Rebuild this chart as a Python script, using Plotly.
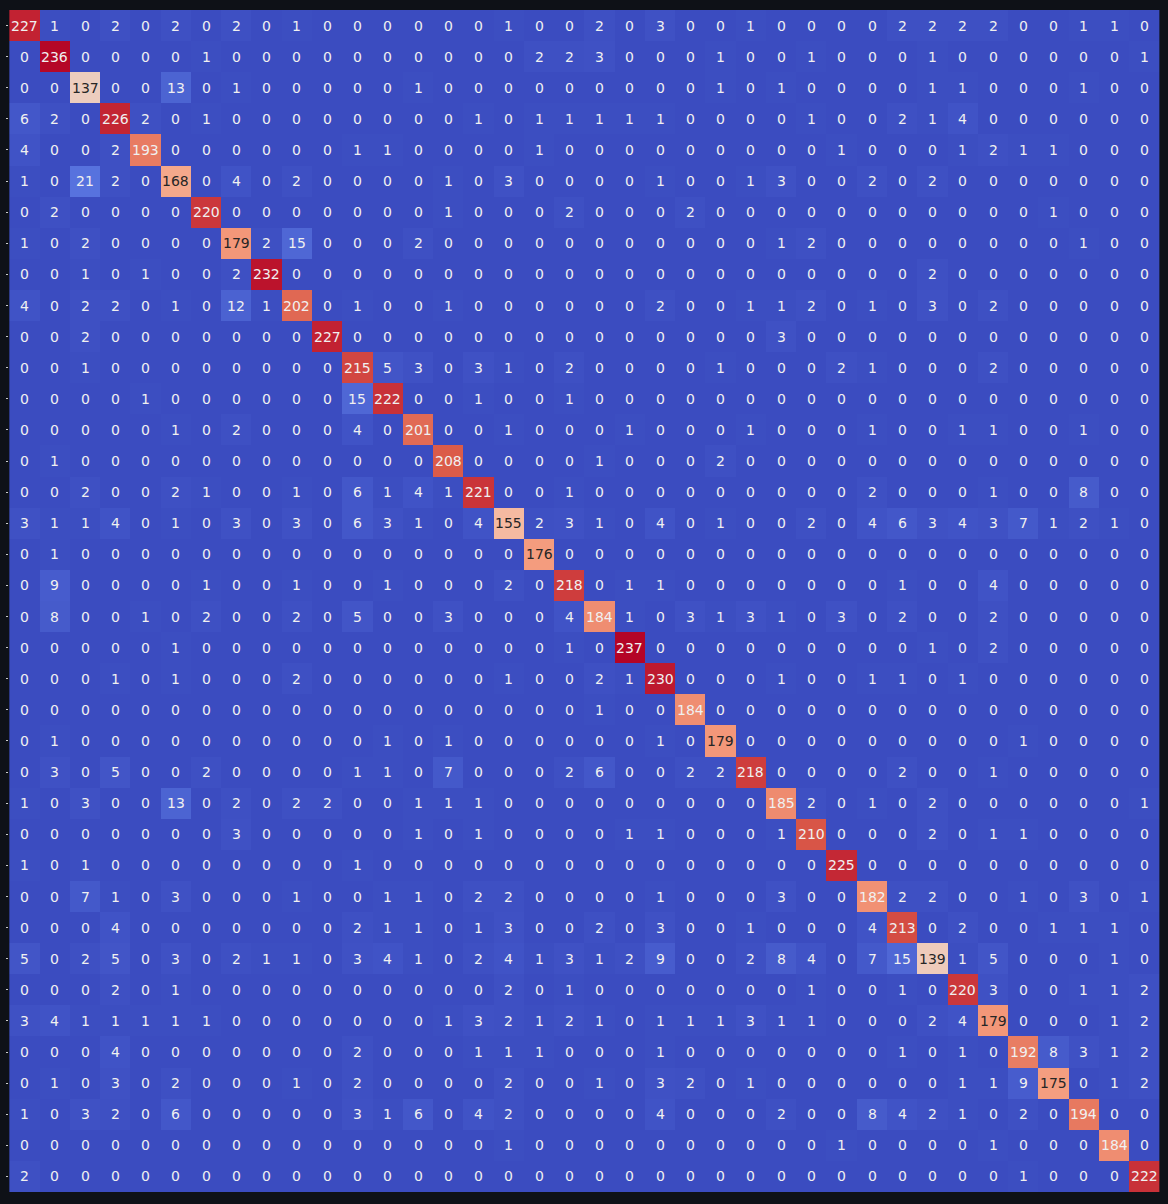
import plotly.graph_objects as go

labels = [str(i) for i in range(38)]

row_00 = [227,1,0,2,0,2,0,2,0,1,0,0,0,0,0,0,1,0,0, 2,0,3,0,0,1,0,0,0,0,2,2,2,2,0,0,1,1,0]
row_01 = [0,236,0,0,0,0,1,0,0,0,0,0,0,0,0,0,0,2,2, 3,0,0,0,1,0,0,1,0,0,0,1,0,0,0,0,0,0,1]
row_02 = [0,0,137,0,0,13,0,1,0,0,0,0,0,1,0,0,0,0,0, 0,0,0,0,1,0,1,0,0,0,0,1,1,0,0,0,1,0,0]
row_03 = [6,2,0,226,2,0,1,0,0,0,0,0,0,0,0,1,0,1,1, 1,1,1,0,0,0,0,1,0,0,2,1,4,0,0,0,0,0,0]
row_04 = [4,0,0,2,193,0,0,0,0,0,0,1,1,0,0,0,0,1,0, 0,0,0,0,0,0,0,0,1,0,0,0,1,2,1,1,0,0,0]
row_05 = [1,0,21,2,0,168,0,4,0,2,0,0,0,0,1,0,3,0,0, 0,0,1,0,0,1,3,0,0,2,0,2,0,0,0,0,0,0,0]
row_06 = [0,2,0,0,0,0,220,0,0,0,0,0,0,0,1,0,0,0,2, 0,0,0,2,0,0,0,0,0,0,0,0,0,0,0,1,0,0,0]
row_07 = [1,0,2,0,0,0,0,179,2,15,0,0,0,2,0,0,0,0,0, 0,0,0,0,0,0,1,2,0,0,0,0,0,0,0,0,1,0,0]
row_08 = [0,0,1,0,1,0,0,2,232,0,0,0,0,0,0,0,0,0,0, 0,0,0,0,0,0,0,0,0,0,0,2,0,0,0,0,0,0,0]
row_09 = [4,0,2,2,0,1,0,12,1,202,0,1,0,0,1,0,0,0,0, 0,0,2,0,0,1,1,2,0,1,0,3,0,2,0,0,0,0,0]
row_10 = [0,0,2,0,0,0,0,0,0,0,227,0,0,0,0,0,0,0,0, 0,0,0,0,0,0,3,0,0,0,0,0,0,0,0,0,0,0,0]
row_11 = [0,0,1,0,0,0,0,0,0,0,0,215,5,3,0,3,1,0,2, 0,0,0,0,1,0,0,0,2,1,0,0,0,2,0,0,0,0,0]
row_12 = [0,0,0,0,1,0,0,0,0,0,0,15,222,0,0,1,0,0,1, 0,0,0,0,0,0,0,0,0,0,0,0,0,0,0,0,0,0,0]
row_13 = [0,0,0,0,0,1,0,2,0,0,0,4,0,201,0,0,1,0,0, 0,1,0,0,0,1,0,0,0,1,0,0,1,1,0,0,1,0,0]
row_14 = [0,1,0,0,0,0,0,0,0,0,0,0,0,0,208,0,0,0,0, 1,0,0,0,2,0,0,0,0,0,0,0,0,0,0,0,0,0,0]
row_15 = [0,0,2,0,0,2,1,0,0,1,0,6,1,4,1,221,0,0,1, 0,0,0,0,0,0,0,0,0,2,0,0,0,1,0,0,8,0,0]
row_16 = [3,1,1,4,0,1,0,3,0,3,0,6,3,1,0,4,155,2,3, 1,0,4,0,1,0,0,2,0,4,6,3,4,3,7,1,2,1,0]
row_17 = [0,1,0,0,0,0,0,0,0,0,0,0,0,0,0,0,0,176,0, 0,0,0,0,0,0,0,0,0,0,0,0,0,0,0,0,0,0,0]
row_18 = [0,9,0,0,0,0,1,0,0,1,0,0,1,0,0,0,2,0,218, 0,1,1,0,0,0,0,0,0,0,1,0,0,4,0,0,0,0,0]
row_19 = [0,8,0,0,1,0,2,0,0,2,0,5,0,0,3,0,0,0,4, 184,1,0,3,1,3,1,0,3,0,2,0,0,2,0,0,0,0,0]
row_20 = [0,0,0,0,0,1,0,0,0,0,0,0,0,0,0,0,0,0,1, 0,237,0,0,0,0,0,0,0,0,0,1,0,2,0,0,0,0,0]
row_21 = [0,0,0,1,0,1,0,0,0,2,0,0,0,0,0,0,1,0,0, 2,1,230,0,0,0,1,0,0,1,1,0,1,0,0,0,0,0,0]
row_22 = [0,0,0,0,0,0,0,0,0,0,0,0,0,0,0,0,0,0,0, 1,0,0,184,0,0,0,0,0,0,0,0,0,0,0,0,0,0,0]
row_23 = [0,1,0,0,0,0,0,0,0,0,0,0,1,0,1,0,0,0,0, 0,0,1,0,179,0,0,0,0,0,0,0,0,0,1,0,0,0,0]
row_24 = [0,3,0,5,0,0,2,0,0,0,0,1,1,0,7,0,0,0,2, 6,0,0,2,2,218,0,0,0,0,2,0,0,1,0,0,0,0,0]
row_25 = [1,0,3,0,0,13,0,2,0,2,2,0,0,1,1,1,0,0,0, 0,0,0,0,0,0,185,2,0,1,0,2,0,0,0,0,0,0,1]
row_26 = [0,0,0,0,0,0,0,3,0,0,0,0,0,1,0,1,0,0,0, 0,1,1,0,0,0,1,210,0,0,0,2,0,1,1,0,0,0,0]
row_27 = [1,0,1,0,0,0,0,0,0,0,0,1,0,0,0,0,0,0,0, 0,0,0,0,0,0,0,0,225,0,0,0,0,0,0,0,0,0,0]
row_28 = [0,0,7,1,0,3,0,0,0,1,0,0,1,1,0,2,2,0,0, 0,0,1,0,0,0,3,0,0,182,2,2,0,0,1,0,3,0,1]
row_29 = [0,0,0,4,0,0,0,0,0,0,0,2,1,1,0,1,3,0,0, 2,0,3,0,0,1,0,0,0,4,213,0,2,0,0,1,1,1,0]
row_30 = [5,0,2,5,0,3,0,2,1,1,0,3,4,1,0,2,4,1,3, 1,2,9,0,0,2,8,4,0,7,15,139,1,5,0,0,0,1,0]
row_31 = [0,0,0,2,0,1,0,0,0,0,0,0,0,0,0,0,2,0,1, 0,0,0,0,0,0,0,1,0,0,1,0,220,3,0,0,1,1,2]
row_32 = [3,4,1,1,1,1,1,0,0,0,0,0,0,0,1,3,2,1,2, 1,0,1,1,1,3,1,1,0,0,0,2,4,179,0,0,0,1,2]
row_33 = [0,0,0,4,0,0,0,0,0,0,0,2,0,0,0,1,1,1,0, 0,0,1,0,0,0,0,0,0,0,1,0,1,0,192,8,3,1,2]
row_34 = [0,1,0,3,0,2,0,0,0,1,0,2,0,0,0,0,2,0,0, 1,0,3,2,0,1,0,0,0,0,0,0,1,1,9,175,0,1,2]
row_35 = [1,0,3,2,0,6,0,0,0,0,0,3,1,6,0,4,2,0,0, 0,0,4,0,0,0,2,0,0,8,4,2,1,0,2,0,194,0,0]
row_36 = [0,0,0,0,0,0,0,0,0,0,0,0,0,0,0,0,1,0,0, 0,0,0,0,0,0,0,0,1,0,0,0,0,1,0,0,0,184,0]
row_37 = [2,0,0,0,0,0,0,0,0,0,0,0,0,0,0,0,0,0,0, 0,0,0,0,0,0,0,0,0,0,0,0,0,0,1,0,0,0,222]

matrix = [row_00,row_01,row_02,row_03,row_04,row_05,row_06,row_07,row_08,row_09,
          row_10,row_11,row_12,row_13,row_14,row_15,row_16,row_17,row_18,row_19,
          row_20,row_21,row_22,row_23,row_24,row_25,row_26,row_27,row_28,row_29,
          row_30,row_31,row_32,row_33,row_34,row_35,row_36,row_37]

coolwarm = [
    [0.0, "#3b4cc0"], [0.125, "#6282ea"], [0.25, "#8db0fe"], [0.375, "#b8d0f9"],
    [0.5, "#dddcdc"], [0.625, "#f5c4ac"], [0.75, "#f49a7b"], [0.875, "#dc5d4a"],
    [1.0, "#b40426"],
]

vmax = max(max(r) for r in matrix)

fig = go.Figure(go.Heatmap(
    z=matrix, x=labels, y=labels,
    colorscale=coolwarm, zmin=0, zmax=vmax,
    showscale=False, hoverongaps=False,
))

annotations = []
for i, row in enumerate(matrix):
    for j, v in enumerate(row):
        frac = v / vmax
        dark = 0.42 <= frac <= 0.758
        annotations.append(dict(
            x=labels[j], y=labels[i], text=str(v), showarrow=False,
            font=dict(family="DejaVu Sans", size=14,
                      color="#262626" if dark else "#f0f0f0"),
        ))

fig.update_layout(
    width=1168, height=1204,
    margin=dict(l=9, r=8, t=10, b=12),
    paper_bgcolor="#0e1117", plot_bgcolor="#0e1117",
    annotations=annotations,
    xaxis=dict(showticklabels=False, showgrid=False, zeroline=False, ticks=""),
    yaxis=dict(showticklabels=False, showgrid=False, zeroline=False,
               autorange="reversed", ticks="outside", ticklen=2,
               tickcolor="#cccccc"),
)

fig.write_html("out.html")
